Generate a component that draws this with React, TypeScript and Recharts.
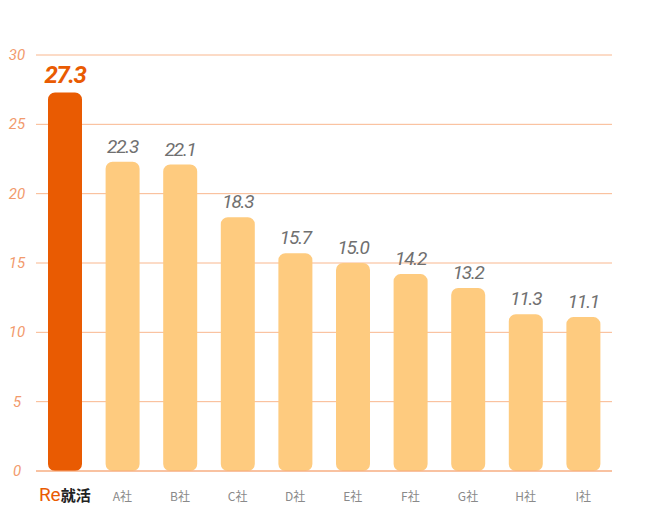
import { BarChart, Bar, XAxis, YAxis, CartesianGrid, Cell, LabelList } from 'recharts';

const companies = ['Re就活', 'A社', 'B社', 'C社', 'D社', 'E社', 'F社', 'G社', 'H社', 'I社'];
const scores = [27.3, 22.3, 22.1, 18.3, 15.7, 15.0, 14.2, 13.2, 11.3, 11.1];
const yTicks = [0, 5, 10, 15, 20, 25, 30];

const data = companies.map((name, i) => ({ name, score: scores[i] }));

const HIGHLIGHT = '#E95B02';
const LIGHT = '#FECB7F';

function YTick({ x, y, payload }: any) {
    return (
        <text x={x - 11} y={y + 5} textAnchor="middle" fill="#F29A6C" fontSize={15}
            fontStyle="italic" fontFamily="Roboto, sans-serif">
            {payload.value}
        </text>
    );
}

function XTick({ x, y, payload }: any) {
    if (payload.value === 'Re就活') {
        return (
            <text x={x} y={y + 22} textAnchor="middle" fontFamily="'Noto Sans CJK JP', sans-serif" fontSize={15}>
                <tspan fill={HIGHLIGHT} fontFamily="Roboto, sans-serif" fontSize={19}>Re</tspan>
                <tspan fill="#222" fontWeight="bold">就活</tspan>
            </text>
        );
    }
    return (
        <text x={x} y={y + 22} textAnchor="middle" fill="#8a8a8a" fontSize={12}
            fontFamily="'Noto Sans CJK JP', sans-serif">
            {payload.value}
        </text>
    );
}

function ValueLabel({ x, y, width, value, index }: any) {
    const first = index === 0;
    return (
        <text x={x + width / 2} y={y - (first ? 9 : 9)} textAnchor="middle"
            fill={first ? HIGHLIGHT : '#707070'} fontSize={first ? 24 : 19}
            fontStyle="italic" fontWeight={first ? 'bold' : 'normal'} letterSpacing={first ? -1.5 : -1.2}
            fontFamily="Roboto, sans-serif">
            {value.toFixed(1)}
        </text>
    );
}

export default function App() {
    return (
        <div style={{ width: 642, height: 504 }}>
            <BarChart width={642} height={504} data={data}
                margin={{ top: 47, right: 38, left: 0, bottom: 0 }} barSize={34}>
                <CartesianGrid horizontal vertical={false} stroke="#F9B78E" strokeWidth={1} />
                <XAxis dataKey="name" height={41} axisLine={{ stroke: '#F5A97C' }} tickLine={false}
                    tick={<XTick />} interval={0} />
                <YAxis width={28} domain={[0, 30]} ticks={yTicks} axisLine={false} tickLine={false}
                    tick={<YTick />} />
                <Bar dataKey="score" radius={[7, 7, 7, 7]} isAnimationActive={false}>
                    {data.map((d, i) => (
                        <Cell key={d.name} fill={i === 0 ? HIGHLIGHT : LIGHT} />
                    ))}
                    <LabelList dataKey="score" content={<ValueLabel />} />
                </Bar>
            </BarChart>
        </div>
    );
}
